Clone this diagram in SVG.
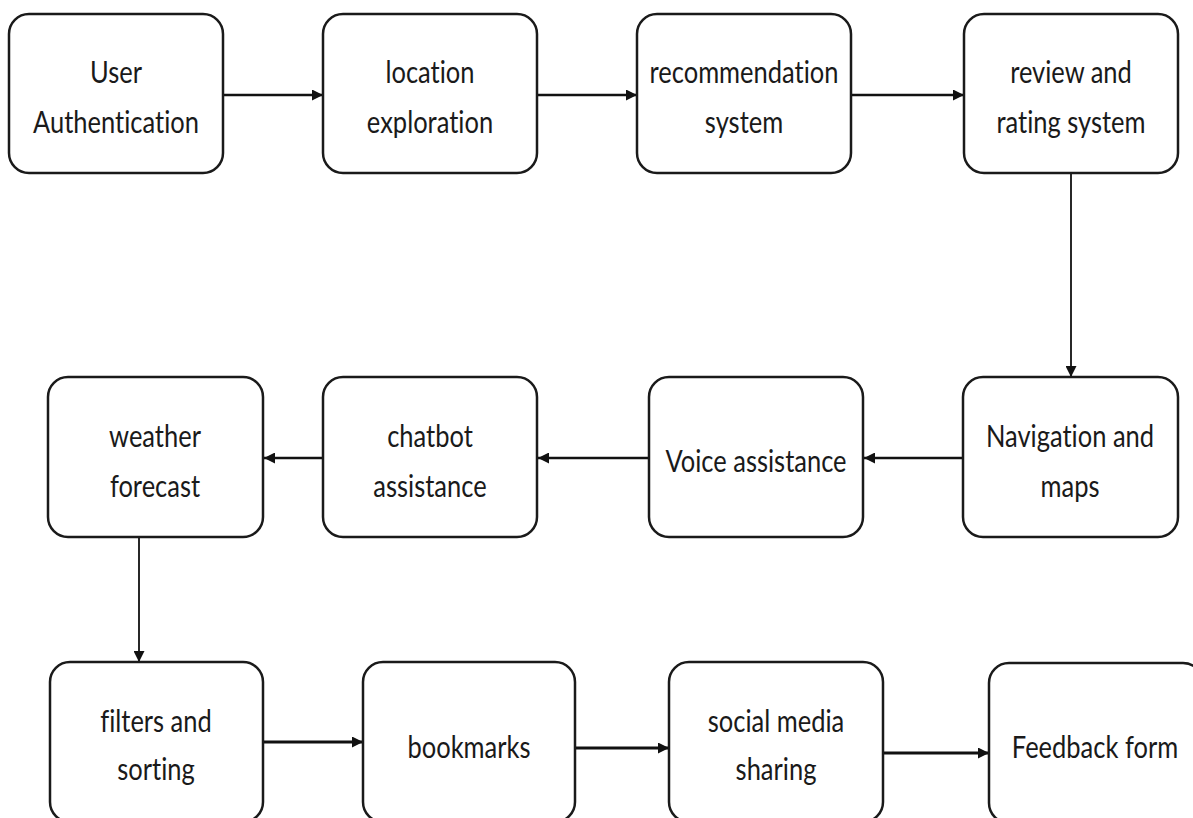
<svg xmlns="http://www.w3.org/2000/svg" width="1193" height="818" viewBox="0 0 1193 818">
<defs>
<style>
.box{fill:#fff;stroke:#1a1a1a;stroke-width:2.5}
.lbl{font-family:Lato,"Liberation Sans",sans-serif;font-size:30px;fill:#1a1a1a;text-anchor:middle;font-variant-ligatures:none}
.c{fill:none;stroke:#111;stroke-width:2.5}
.v{fill:none;stroke:#111;stroke-width:1.8}
.t{fill:none;stroke:#111;stroke-width:3}
</style>
<marker id="ah" viewBox="0 0 10 10" refX="10" refY="5" markerWidth="11" markerHeight="11" markerUnits="userSpaceOnUse" orient="auto">
<path d="M0,0 L10,5 L0,10 z" fill="#111"/>
</marker>
</defs>
<rect width="1193" height="818" fill="#fff"/>
<g id="connectors">
<line class="c" x1="223" y1="95" x2="323" y2="95" marker-end="url(#ah)"/>
<line class="c" x1="537" y1="95" x2="637" y2="95" marker-end="url(#ah)"/>
<line class="c" x1="851" y1="95" x2="964" y2="95" marker-end="url(#ah)"/>
<line class="v" x1="1071" y1="173" x2="1071" y2="377" marker-end="url(#ah)"/>
<line class="c" x1="963" y1="458" x2="864" y2="458" marker-end="url(#ah)"/>
<line class="c" x1="649" y1="458" x2="538" y2="458" marker-end="url(#ah)"/>
<line class="c" x1="323" y1="458" x2="264" y2="458" marker-end="url(#ah)"/>
<line class="v" x1="139" y1="537" x2="139" y2="662" marker-end="url(#ah)"/>
<line class="t" x1="263" y1="742" x2="363" y2="742" marker-end="url(#ah)"/>
<line class="t" x1="575" y1="748" x2="669" y2="748" marker-end="url(#ah)"/>
<line class="t" x1="883" y1="753" x2="989" y2="753" marker-end="url(#ah)"/>
</g>
<g id="n1"><rect class="box" x="9" y="14" width="214" height="159" rx="20"/>
<text class="lbl" transform="translate(116,0) scale(0.85,1)"><tspan x="0" y="83">User</tspan><tspan x="0" y="133">Authentication</tspan></text></g>
<g id="n2"><rect class="box" x="323" y="14" width="214" height="159" rx="20"/>
<text class="lbl" transform="translate(430,0) scale(0.85,1)"><tspan x="0" y="83">location</tspan><tspan x="0" y="133">exploration</tspan></text></g>
<g id="n3"><rect class="box" x="637" y="14" width="214" height="159" rx="20"/>
<text class="lbl" transform="translate(744,0) scale(0.85,1)"><tspan x="0" y="83">recommendation</tspan><tspan x="0" y="133">system</tspan></text></g>
<g id="n4"><rect class="box" x="964" y="14" width="214" height="159" rx="20"/>
<text class="lbl" transform="translate(1071,0) scale(0.85,1)"><tspan x="0" y="83">review and</tspan><tspan x="0" y="133">rating system</tspan></text></g>
<g id="n5"><rect class="box" x="963" y="377" width="215" height="160" rx="20"/>
<text class="lbl" transform="translate(1070,0) scale(0.85,1)"><tspan x="0" y="447">Navigation and</tspan><tspan x="0" y="497">maps</tspan></text></g>
<g id="n6"><rect class="box" x="649" y="377" width="214" height="160" rx="20"/>
<text class="lbl" transform="translate(756,0) scale(0.85,1)"><tspan x="0" y="472">Voice assistance</tspan></text></g>
<g id="n7"><rect class="box" x="323" y="377" width="214" height="160" rx="20"/>
<text class="lbl" transform="translate(430,0) scale(0.85,1)"><tspan x="0" y="447">chatbot</tspan><tspan x="0" y="497">assistance</tspan></text></g>
<g id="n8"><rect class="box" x="48" y="377" width="215" height="160" rx="20"/>
<text class="lbl" transform="translate(155,0) scale(0.85,1)"><tspan x="0" y="447">weather</tspan><tspan x="0" y="497">forecast</tspan></text></g>
<g id="n9"><rect class="box" x="50" y="662" width="213" height="160" rx="20"/>
<text class="lbl" transform="translate(156,0) scale(0.85,1)"><tspan x="0" y="732">filters and</tspan><tspan x="0" y="780">sorting</tspan></text></g>
<g id="n10"><rect class="box" x="363" y="662" width="212" height="160" rx="20"/>
<text class="lbl" transform="translate(469,0) scale(0.85,1)"><tspan x="0" y="758">bookmarks</tspan></text></g>
<g id="n11"><rect class="box" x="669" y="662" width="214" height="160" rx="20"/>
<text class="lbl" transform="translate(776,0) scale(0.85,1)"><tspan x="0" y="732">social media</tspan><tspan x="0" y="780">sharing</tspan></text></g>
<g id="n12"><rect class="box" x="989" y="663" width="214" height="160" rx="20"/>
<text class="lbl" transform="translate(1095,0) scale(0.85,1)"><tspan x="0" y="758">Feedback form</tspan></text></g>
</svg>
